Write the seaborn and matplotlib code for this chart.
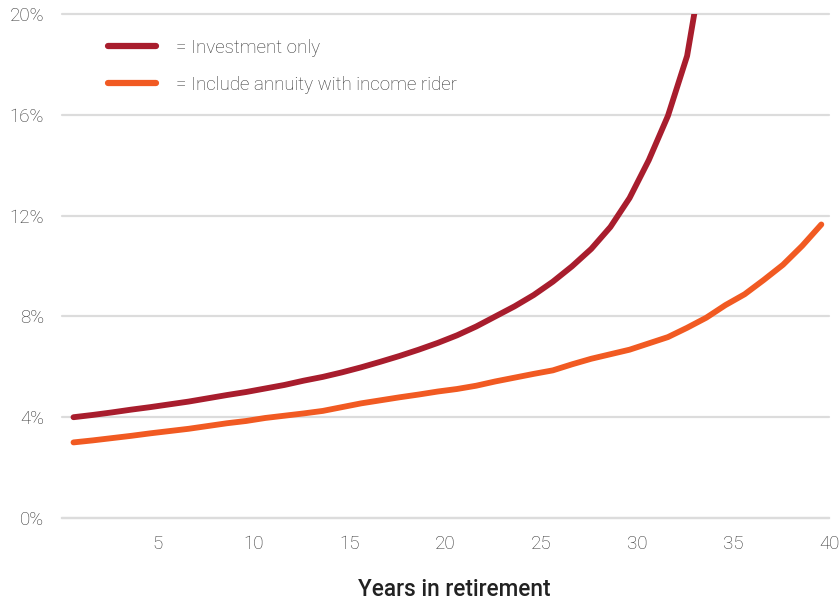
import numpy as np
import pandas as pd
import matplotlib
matplotlib.use("Agg")
import matplotlib.pyplot as plt
import seaborn as sns
from matplotlib.patches import Rectangle
from matplotlib.lines import Line2D

# Withdrawal rate (%) by year in retirement
years = np.arange(1, 41)
investment_only = [
    4.00, 4.09, 4.19, 4.30, 4.40, 4.51, 4.62, 4.75, 4.88, 5.00,
    5.14, 5.28, 5.45, 5.60, 5.78, 5.98, 6.20, 6.43, 6.68, 6.95,
    7.25, 7.60, 8.00, 8.40, 8.85, 9.38, 9.99, 10.68, 11.55, 12.70,
    14.20, 15.96, 18.34, 22.80,
]
with_annuity = [
    3.00, 3.08, 3.17, 3.26, 3.36, 3.45, 3.54, 3.65, 3.76, 3.85,
    3.97, 4.06, 4.15, 4.25, 4.40, 4.55, 4.67, 4.79, 4.90, 5.02,
    5.12, 5.25, 5.42, 5.57, 5.72, 5.86, 6.10, 6.32, 6.50, 6.68,
    6.93, 7.18, 7.55, 7.95, 8.45, 8.88, 9.45, 10.05, 10.80, 11.65,
]
series_names = ["= Investment only", "= Include annuity with income rider"]
x_ticks = [5, 10, 15, 20, 25, 30, 35, 40]
y_ticks = [0, 4, 8, 12, 16, 20]
y_tick_labels = [f"{v}%" for v in y_ticks]
x_label = "Years in retirement"

RED = "#a81d2d"
ORANGE = "#f15a22"
GRID = "#dcdcdc"
TEXT = "#333333"
YEAR_SHIFT = 0.4  # points sit slightly left of the year tick

df = pd.concat([
    pd.DataFrame({"x": years[:len(investment_only)] - YEAR_SHIFT,
                  "rate": investment_only, "series": series_names[0]}),
    pd.DataFrame({"x": years[:len(with_annuity)] - YEAR_SHIFT,
                  "rate": with_annuity, "series": series_names[1]}),
])

sns.set_theme(style="white")
plt.rcParams["font.family"] = ["Roboto", "DejaVu Sans"]

fig = plt.figure(figsize=(8.4, 6.01), dpi=100)
ax = fig.add_axes([62 / 840, 83 / 601, 767 / 840, 514 / 601])

sns.lineplot(data=df, x="x", y="rate", hue="series", hue_order=series_names,
             palette=[RED, ORANGE], linewidth=4.2, legend=False, ax=ax,
             sort=False)

for ln in ax.get_lines():
    ln.set_solid_capstyle("round")
    ln.set_solid_joinstyle("round")

ax.set_xlim(0, 40)
ax.set_ylim(0, 20.4)

# the steep curve is cut off at the top of the scale
clip = Rectangle((0, 0), 40, 20.0, transform=ax.transData)
ax.get_lines()[0].set_clip_path(clip)

for v in y_ticks:
    ax.axhline(v, color=GRID, lw=1.6, zorder=0.5, clip_on=False)

ax.set_yticks(y_ticks)
ax.set_yticklabels(y_tick_labels)
ax.set_xticks(x_ticks)
ax.set_xticklabels([str(t) for t in x_ticks])

for s in ["top", "right", "left"]:
    ax.spines[s].set_visible(False)
ax.spines["bottom"].set_color(GRID)
ax.spines["bottom"].set_linewidth(1.6)

ax.tick_params(axis="x", direction="in", length=8, width=1.2, color=GRID,
               pad=12, labelsize=13.5, labelcolor=TEXT)
ax.tick_params(axis="y", length=0, pad=13, labelsize=13.5, labelcolor=TEXT)
for lab in ax.get_xticklabels() + ax.get_yticklabels():
    lab.set_fontweight("light")

ax.set_xlabel(x_label, fontsize=16.3, fontweight="medium", color="#222222")
ax.xaxis.set_label_coords(0.512, -0.116)
ax.set_ylabel("")

handles = [Line2D([], [], color=RED, lw=4.5), Line2D([], [], color=ORANGE, lw=4.5)]
leg = ax.legend(handles, series_names, loc="upper left",
                bbox_to_anchor=(108 / 840, 1 - 39 / 601),
                bbox_transform=fig.transFigure, frameon=False,
                fontsize=13.5, handlelength=2.55, handletextpad=1.05,
                labelspacing=1.0, borderpad=0, borderaxespad=0)
for t in leg.get_texts():
    t.set_color(TEXT)
    t.set_fontweight("light")

fig.savefig("out.png", dpi=100, facecolor="white")
